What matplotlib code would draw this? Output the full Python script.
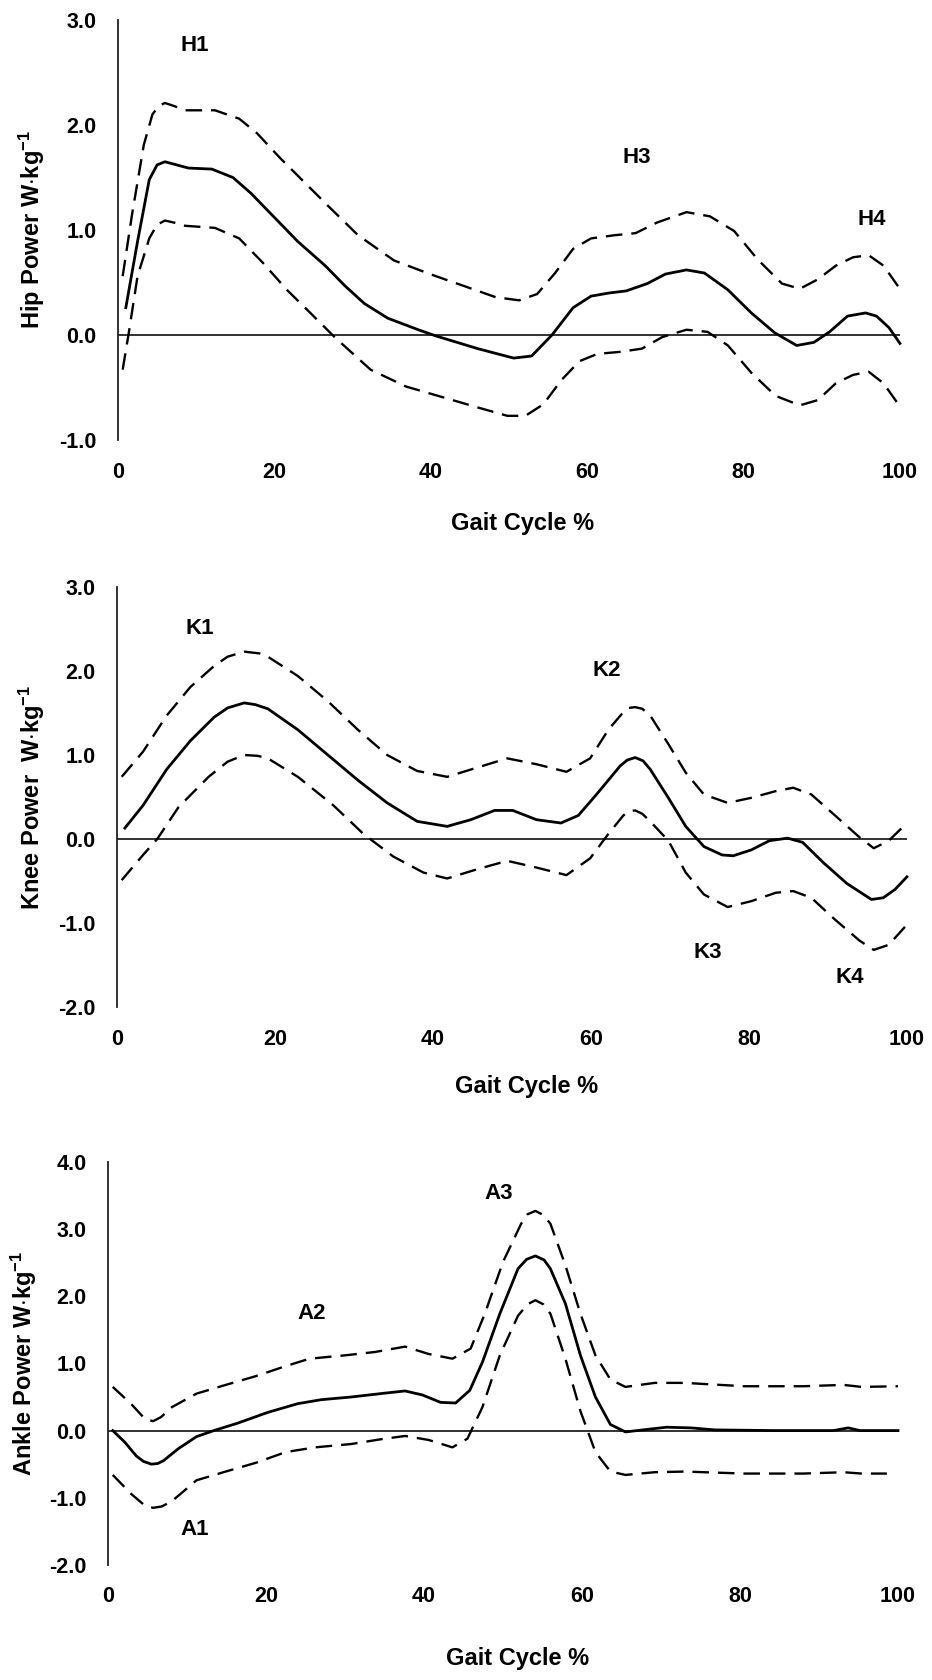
import matplotlib
matplotlib.use("Agg")
import matplotlib.pyplot as plt

plt.rcParams["font.family"] = ["Liberation Sans", "DejaVu Sans"]
plt.rcParams["font.weight"] = "bold"
plt.rcParams["mathtext.fontset"] = "custom"
plt.rcParams["mathtext.rm"] = "Liberation Sans:bold"
plt.rcParams["mathtext.default"] = "rm"

# ---- hip power (W/kg) ----
hip_mean_x = [1, 2.5, 4, 5, 6, 9, 12, 14.7, 17, 20, 23, 26.5, 29, 31.5, 34.5, 38.4, 40.7, 46, 50.6, 52.9,
              55.5, 58.2, 60.5, 62.8, 65, 67.7, 70, 72.7, 75, 78, 81, 84, 86.8, 89, 91, 93.3, 95.6, 97, 98.6, 100]
hip_mean = [0.26, 0.89, 1.48, 1.62, 1.65, 1.59, 1.58, 1.50, 1.35, 1.12, 0.89, 0.66, 0.47, 0.30, 0.16, 0.05, -0.01,
            -0.13, -0.22, -0.20, 0.0, 0.26, 0.37, 0.40, 0.42, 0.49, 0.58, 0.62, 0.59, 0.43, 0.21, 0.02, -0.10,
            -0.07, 0.03, 0.18, 0.21, 0.18, 0.07, -0.08]
hip_upper_x = [0.6, 1.8, 3.3, 4.4, 5.2, 6, 7.2, 8.6, 12.4, 15.5, 17.8, 20.8, 23.9, 27, 30.7, 35.3, 39.9, 44.5,
               48.3, 51.3, 53.6, 55.9, 58.2, 60.5, 63.5, 66.2, 68.9, 72.7, 75.7, 78.8, 81.8, 84.9, 87.2, 89.5,
               91.8, 94, 96, 97.9, 99.8]
hip_upper = [0.56, 1.15, 1.81, 2.10, 2.18, 2.21, 2.18, 2.14, 2.14, 2.06, 1.92, 1.68, 1.45, 1.22, 0.95, 0.71, 0.58,
             0.46, 0.36, 0.33, 0.39, 0.59, 0.82, 0.92, 0.95, 0.97, 1.07, 1.17, 1.13, 0.99, 0.72, 0.49, 0.44,
             0.53, 0.66, 0.74, 0.76, 0.66, 0.46]
hip_lower_x = [0.6, 1.4, 2.5, 4, 5, 6, 7.2, 8.6, 12.4, 15.5, 18.5, 21.6, 24.6, 27.7, 32.3, 36.8, 41.4, 46, 49.8,
               52.1, 54.4, 56.7, 59, 61.3, 64.3, 67, 69.6, 72.7, 75.4, 78, 81, 84.1, 87.2, 89.5, 91.8, 94, 96,
               97.9, 99.8]
hip_lower = [-0.33, 0.03, 0.56, 0.92, 1.05, 1.09, 1.07, 1.04, 1.02, 0.92, 0.69, 0.43, 0.21, -0.02, -0.33, -0.49,
             -0.59, -0.69, -0.77, -0.77, -0.66, -0.43, -0.25, -0.18, -0.16, -0.13, -0.02, 0.05, 0.03, -0.10,
             -0.36, -0.58, -0.67, -0.62, -0.46, -0.38, -0.35, -0.46, -0.66]

# ---- knee power ----
knee_mean_x = [1, 3.3, 6.3, 9.3, 12.3, 14, 16.1, 17.5, 19.1, 22.9, 26.7, 30.5, 34.2, 38, 41.8, 44.8, 47.8, 50.1,
               53.1, 56.2, 58.4, 60.7, 63.7, 64.6, 65.6, 66.6, 67.5, 69.8, 72, 74.3, 76.6, 78, 80.3, 82.6, 84.9,
               86.8, 89.4, 92.4, 95.5, 97, 98.5, 100]
knee_mean = [0.13, 0.40, 0.83, 1.17, 1.45, 1.56, 1.62, 1.60, 1.55, 1.30, 1.00, 0.70, 0.43, 0.21, 0.15, 0.23, 0.34,
             0.34, 0.23, 0.19, 0.28, 0.53, 0.87, 0.94, 0.97, 0.93, 0.83, 0.49, 0.15, -0.09, -0.19, -0.20, -0.13,
             -0.02, 0.01, -0.04, -0.28, -0.53, -0.72, -0.70, -0.60, -0.45]
knee_upper_x = [0.6, 3.3, 6.3, 9.3, 12.3, 14, 16.1, 18, 19.1, 22.9, 26.7, 30.5, 34.2, 38, 41.8, 45.6, 49.4, 53.1,
                56.9, 59.9, 62.2, 64.1, 64.8, 65.6, 66.5, 67.5, 69.8, 72, 74.3, 77.3, 80.3, 83.4, 85.6, 87.9,
                90.9, 94, 95.8, 97.7, 100]
knee_upper = [0.74, 1.04, 1.47, 1.81, 2.06, 2.17, 2.23, 2.21, 2.17, 1.94, 1.64, 1.30, 1.00, 0.81, 0.74, 0.85,
              0.96, 0.89, 0.80, 0.96, 1.30, 1.51, 1.56, 1.57, 1.55, 1.47, 1.13, 0.79, 0.53, 0.43, 0.49, 0.57,
              0.61, 0.53, 0.28, 0.02, -0.11, -0.02, 0.19]
knee_lower_x = [0.6, 3.3, 5.1, 7.8, 11.6, 14, 16.1, 17.8, 19.1, 22.9, 27.4, 31.2, 35, 38.8, 41.8, 45.6, 49.4,
                53.1, 56.9, 59.9, 62.2, 64.1, 64.8, 65.6, 66.5, 67.5, 69.8, 72, 74.3, 77.3, 80.3, 83.4, 85.6,
                87.9, 90.9, 94, 95.8, 97.7, 100]
knee_lower = [-0.49, -0.19, 0.0, 0.38, 0.74, 0.92, 1.00, 0.99, 0.96, 0.74, 0.40, 0.06, -0.21, -0.40, -0.47,
              -0.36, -0.26, -0.34, -0.43, -0.23, 0.06, 0.28, 0.33, 0.34, 0.30, 0.21, -0.02, -0.40, -0.66, -0.81,
              -0.74, -0.64, -0.62, -0.70, -0.96, -1.21, -1.32, -1.26, -1.02]

# ---- ankle power ----
ankle_mean_x = [0.6, 2.1, 3.6, 4.5, 5.5, 6.3, 7, 8.9, 11.2, 13.4, 16.4, 20.2, 24, 27, 30.8, 34.5, 37.6, 39.8,
                42.1, 44, 45.8, 47.4, 49.6, 51.9, 53, 54.1, 55.2, 56, 57.9, 59.8, 61.7, 63.6, 65.5, 67.7, 70.7,
                73.8, 76.8, 84.3, 91.8, 93.7, 95.2, 100]
ankle_mean = [0.0, -0.17, -0.38, -0.46, -0.50, -0.49, -0.45, -0.27, -0.09, 0.0, 0.11, 0.27, 0.40, 0.46, 0.50,
              0.55, 0.59, 0.53, 0.42, 0.41, 0.60, 1.02, 1.74, 2.41, 2.55, 2.60, 2.54, 2.41, 1.89, 1.12, 0.50,
              0.09, -0.02, 0.01, 0.05, 0.04, 0.01, 0.0, 0.0, 0.04, 0.0, 0.0]
ankle_upper_x = [0.6, 2.9, 4.7, 5.7, 6.7, 8.1, 11.2, 14.9, 18.7, 22.5, 25.5, 30, 33.8, 37.6, 40.6, 43.6, 45.9,
                 47.7, 50, 52.3, 53.1, 54.1, 55.1, 56, 57.9, 59.8, 61.7, 63.6, 65.5, 69.2, 73, 80.5, 88, 93.1,
                 95.4, 100]
ankle_upper = [0.65, 0.40, 0.17, 0.14, 0.20, 0.35, 0.55, 0.68, 0.81, 0.96, 1.07, 1.12, 1.17, 1.25, 1.14, 1.07,
               1.22, 1.74, 2.51, 3.08, 3.22, 3.27, 3.21, 3.08, 2.46, 1.74, 1.12, 0.76, 0.65, 0.71, 0.71, 0.66,
               0.66, 0.68, 0.65, 0.66]
ankle_lower_x = [0.6, 2.9, 4.7, 5.7, 6.8, 8.1, 11.2, 14.9, 18.7, 22.5, 26.2, 30.8, 34.5, 37.6, 40.6, 43.6, 45.5,
                 47.4, 49.6, 51.9, 53.1, 54.1, 55.1, 56, 57.9, 59.8, 61.7, 63.6, 65.5, 69.2, 73, 80.5, 88, 93.1,
                 95.4, 98.6]
ankle_lower = [-0.66, -0.94, -1.12, -1.15, -1.13, -1.05, -0.74, -0.61, -0.48, -0.32, -0.25, -0.20, -0.13, -0.08,
               -0.14, -0.25, -0.12, 0.35, 1.12, 1.71, 1.88, 1.94, 1.88, 1.74, 1.07, 0.29, -0.32, -0.61, -0.66,
               -0.62, -0.61, -0.64, -0.64, -0.62, -0.64, -0.64]

x_ticks = [0, 20, 40, 60, 80, 100]

# phase labels: (text, x, y)
hip_phases = [("H1", 9.8, 2.76), ("H3", 66.4, 1.69), ("H4", 96.4, 1.10)]
knee_phases = [("K1", 10.5, 2.51), ("K2", 62.0, 2.0), ("K3", 74.8, -1.35), ("K4", 92.8, -1.65)]
ankle_phases = [("A1", 11.0, -1.48), ("A2", 25.8, 1.74), ("A3", 49.4, 3.53)]

panels = [
    dict(rect=[0.1266, 0.7381, 0.839, 0.25], ylim=(-1, 3), yticks=[-1, 0, 1, 2, 3],
         ylabel=r"Hip Power W$\cdot$kg$^{-1}$", ylab_x=-0.110, xlab_y=-0.198,
         mean=(hip_mean_x, hip_mean), upper=(hip_upper_x, hip_upper), lower=(hip_lower_x, hip_lower),
         phases=hip_phases),
    dict(rect=[0.1255, 0.4006, 0.8476, 0.25], ylim=(-2, 3), yticks=[-2, -1, 0, 1, 2, 3],
         ylabel=r"Knee Power  W$\cdot$kg$^{-1}$", ylab_x=-0.108, xlab_y=-0.19,
         mean=(knee_mean_x, knee_mean), upper=(knee_upper_x, knee_upper), lower=(knee_lower_x, knee_lower),
         phases=knee_phases),
    dict(rect=[0.1159, 0.0685, 0.8476, 0.2399], ylim=(-2, 4), yticks=[-2, -1, 0, 1, 2, 3, 4],
         ylabel=r"Ankle Power W$\cdot$kg$^{-1}$", ylab_x=-0.106, xlab_y=-0.231,
         mean=(ankle_mean_x, ankle_mean), upper=(ankle_upper_x, ankle_upper), lower=(ankle_lower_x, ankle_lower),
         phases=ankle_phases),
]

fig = plt.figure(figsize=(9.32, 16.8), dpi=100)

for p in panels:
    ax = fig.add_axes(p["rect"])
    ax.set_xlim(0, 100)
    ax.set_ylim(*p["ylim"])

    ax.axhline(0, color="#222222", linewidth=1.3, zorder=1)
    ax.plot(*p["mean"], color="black", linewidth=2.0, zorder=3, clip_on=False,
            solid_joinstyle="round")
    for key in ("upper", "lower"):
        ax.plot(*p[key], color="black", linewidth=1.7, dashes=(7, 3.8), zorder=2, clip_on=False)

    for txt, tx, ty in p["phases"]:
        ax.text(tx, ty, txt, fontsize=16, fontweight="bold", ha="center", va="center")

    for side in ("top", "right", "bottom"):
        ax.spines[side].set_visible(False)
    ax.spines["left"].set_linewidth(1.3)
    ax.spines["left"].set_color("#222222")

    ax.set_xticks(x_ticks)
    ax.set_yticks(p["yticks"])
    ax.set_yticklabels([f"{v:.1f}" for v in p["yticks"]])
    ax.tick_params(axis="both", length=0, labelsize=15.5)
    ax.tick_params(axis="y", pad=15.5)
    ax.tick_params(axis="x", pad=15.5)
    for lab in ax.get_xticklabels() + ax.get_yticklabels():
        lab.set_fontweight("bold")

    ax.set_xlabel("Gait Cycle %", fontsize=17, fontweight="bold")
    ax.xaxis.set_label_coords(0.518, p["xlab_y"])
    ax.xaxis.label.set_va("center")
    ax.set_ylabel(p["ylabel"], fontsize=17, fontweight="bold")
    ax.yaxis.set_label_coords(p["ylab_x"], 0.5)
    ax.yaxis.label.set_va("center")

fig.savefig("out.png", dpi=100)
